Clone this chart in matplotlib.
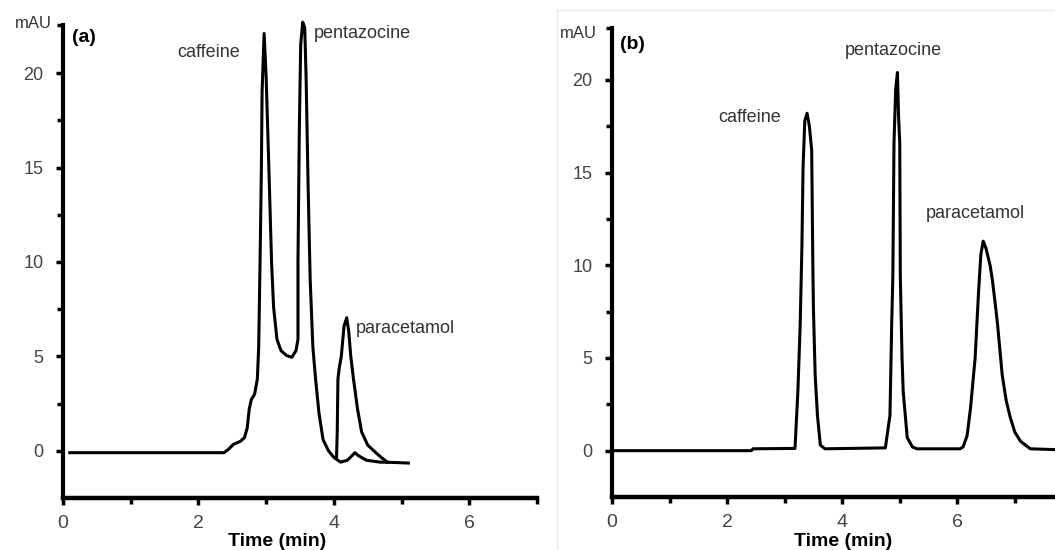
import matplotlib
matplotlib.use("Agg")
import matplotlib.pyplot as plt
from matplotlib.lines import Line2D

plt.rcParams['font.family'] = ['Liberation Sans', 'DejaVu Sans']

# (a) trace: baseline -> caffeine -> valley -> pentazocine -> tail with small bump
a_time = [0.10, 2.38, 2.45, 2.52, 2.62, 2.68, 2.72, 2.75, 2.78, 2.83, 2.87, 2.89,
          2.91, 2.93, 2.94, 2.97, 3.00, 3.04, 3.08, 3.11, 3.16, 3.22, 3.30, 3.38,
          3.44, 3.47, 3.47, 3.49, 3.51, 3.54, 3.57, 3.59, 3.62, 3.65, 3.69, 3.73,
          3.78, 3.84, 3.92, 4.00, 4.10, 4.20, 4.27, 4.31, 4.36, 4.48, 4.68, 4.90, 5.10]
a_mau = [-0.1, -0.1, 0.1, 0.35, 0.5, 0.7, 1.2, 2.2, 2.7, 3.0, 3.8, 5.5,
         10.0, 15.0, 19.0, 22.1, 19.8, 15.0, 10.0, 7.6, 5.9, 5.3, 5.05, 4.95,
         5.3, 5.9, 10.0, 17.0, 21.5, 22.7, 22.4, 19.8, 14.0, 9.1, 5.5, 3.8,
         2.0, 0.6, 0.0, -0.35, -0.6, -0.5, -0.25, -0.1, -0.25, -0.5, -0.6, -0.62, -0.65]

# (a) paracetamol segment drawn over the tail
a_para_time = [4.04, 4.05, 4.06, 4.08, 4.11, 4.15, 4.19, 4.22, 4.25, 4.29, 4.35,
               4.41, 4.50, 4.62, 4.70, 4.79]
a_para_mau = [-0.3, 1.0, 3.8, 4.4, 5.0, 6.6, 7.05, 6.3, 5.0, 3.8, 2.2,
              1.0, 0.3, -0.1, -0.35, -0.6]

# (b) trace: three resolved peaks
b_time = [0.00, 2.42, 2.45, 3.18, 3.23, 3.27, 3.30, 3.32, 3.35, 3.39, 3.43, 3.47,
          3.49, 3.50, 3.53, 3.57, 3.62, 3.70, 4.75, 4.83, 4.86, 4.88, 4.90, 4.93,
          4.96, 4.98, 5.00, 5.01, 5.04, 5.06, 5.13, 5.22, 5.30, 6.05, 6.10, 6.17,
          6.23, 6.31, 6.37, 6.41, 6.45, 6.50, 6.57, 6.61, 6.66, 6.70, 6.78, 6.85,
          6.92, 7.00, 7.10, 7.27, 7.75]
b_mau = [0.0, 0.0, 0.1, 0.12, 3.2, 6.8, 11.0, 15.3, 17.8, 18.2, 17.5, 16.2,
         10.0, 7.7, 4.1, 1.9, 0.3, 0.1, 0.15, 1.9, 6.8, 9.4, 16.6, 19.5,
         20.4, 18.0, 16.6, 9.4, 5.0, 3.2, 0.7, 0.2, 0.1, 0.1, 0.2, 0.8,
         2.3, 5.0, 8.6, 10.6, 11.3, 10.9, 10.0, 9.2, 7.9, 6.8, 4.1, 2.7,
         1.8, 1.0, 0.5, 0.1, 0.05]

peak_names = ['caffeine', 'pentazocine', 'paracetamol']
a_label_pos = [(1.69, 21.1), (3.71, 22.1), (4.32, 6.5)]
b_label_pos = [(1.84, 17.95), (4.05, 21.6), (5.46, 12.8)]

W, H = 1055, 550
fig = plt.figure(figsize=(W / 100, H / 100), dpi=100)

# faint frame around the second chromatogram
frame_kw = dict(color='#ececec', lw=1.0, transform=fig.transFigure)
fig.add_artist(Line2D([557 / W, 557 / W], [0, 1 - 10 / H], **frame_kw))
fig.add_artist(Line2D([557 / W, 1], [1 - 10 / H, 1 - 10 / H], **frame_kw))


def px_axes(x0, x1, y_top, y_bot):
    return fig.add_axes([x0 / W, 1 - y_bot / H, (x1 - x0) / W, (y_bot - y_top) / H])


def style_axis(ax, xmax, ymax):
    ax.set_xlim(0, xmax)
    ax.set_ylim(-2.5, ymax)
    ax.patch.set_alpha(0)
    for side in ['top', 'right']:
        ax.spines[side].set_visible(False)
    ax.spines['left'].set_linewidth(3)
    ax.spines['bottom'].set_linewidth(3.2)
    ax.set_xticks([0, 2, 4, 6])
    ax.set_xticks([1, 3, 5, 7], minor=True)
    ax.set_yticks([0, 5, 10, 15, 20])
    ax.set_yticks([2.5, 7.5, 12.5, 17.5, ymax], minor=True)
    ax.tick_params(axis='x', which='major', length=5, width=2.5, pad=7,
                   labelsize=14, labelcolor='#444444')
    ax.tick_params(axis='y', which='major', length=5, width=2.5, pad=9,
                   labelsize=13, labelcolor='#444444')
    ax.tick_params(which='minor', length=4, width=2.5)


def draw_panel(ax, tag, label_pos):
    ax.text(0.14, 21.9, tag, fontsize=14, fontweight='bold', va='center')
    for name, (tx, ty) in zip(peak_names, label_pos):
        ax.text(tx, ty, name, fontsize=13, color='#333333', va='center')


# (a) overlapped separation
ax1 = px_axes(63, 537, 25, 498)
style_axis(ax1, 6.85, 22.55)
ax1.plot(a_time, a_mau, color='black', lw=2.2, solid_joinstyle='round', clip_on=False)
ax1.plot(a_para_time, a_para_mau, color='black', lw=2.2, solid_joinstyle='round')
draw_panel(ax1, '(a)', a_label_pos)

# (b) optimised separation
ax2 = px_axes(612, 1058, 28, 497)
style_axis(ax2, 7.75, 22.8)
ax2.plot(b_time, b_mau, color='black', lw=2.2, solid_joinstyle='round')
draw_panel(ax2, '(b)', b_label_pos)

# axis captions
fig.text(52 / W, 1 - 24 / H, 'mAU', fontsize=12, color='#333333', ha='right', va='center')
fig.text(597 / W, 1 - 34 / H, 'mAU', fontsize=12, color='#333333', ha='right', va='center')
fig.text(277 / W, 1 - 541 / H, 'Time (min)', fontsize=14, fontweight='bold',
         ha='center', va='center')
fig.text(843 / W, 1 - 541 / H, 'Time (min)', fontsize=14, fontweight='bold',
         ha='center', va='center')

fig.savefig('out.png', dpi=100)
